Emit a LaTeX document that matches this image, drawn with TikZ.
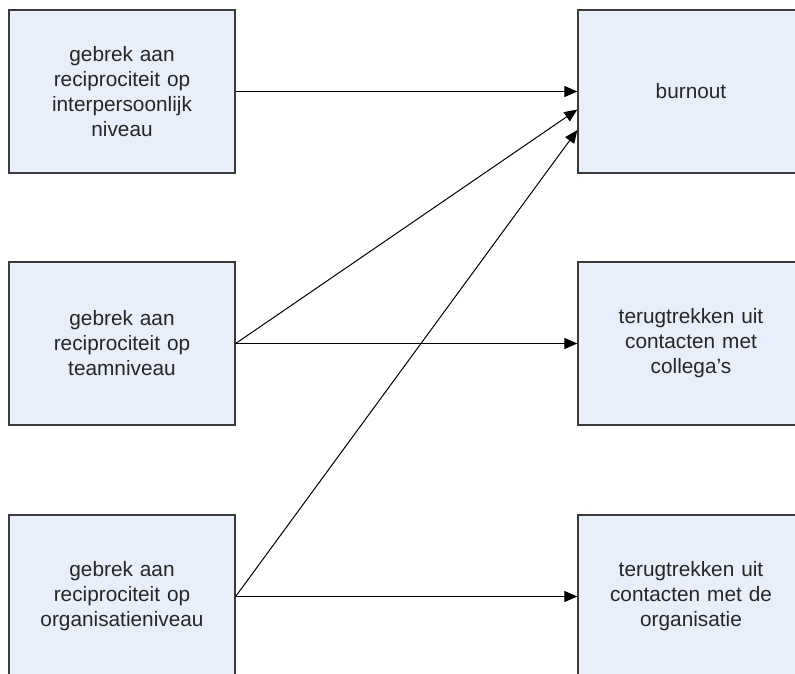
\documentclass[tikz,border=0pt]{standalone}
\usepackage{fontspec}
\setmainfont{Liberation Sans}
\usetikzlibrary{arrows.meta}
\definecolor{boxfill}{HTML}{E8EFFA}
\definecolor{boxline}{HTML}{3A3A3A}
\tikzset{
  box/.style={draw=boxline, line width=1.3pt, fill=boxfill, rectangle,
    minimum width=226pt, minimum height=163pt, inner sep=0pt,
    align=center, text width=210pt,
    font=\fontsize{20.8}{25}\selectfont, text=black!85},
  conn/.style={draw=black, line width=1pt, -{Triangle[length=13pt,width=11pt]}}
}
\begin{document}
\begin{tikzpicture}[x=1pt,y=-1pt]
\useasboundingbox (0,0) rectangle (795,673);
\clip (0,0) rectangle (795,673);
\node[box] (L1) at (122,91.5) {gebrek aan\\reciprociteit op\\interpersoonlijk\\niveau};
\node[box] (L2) at (122,343.5) {gebrek aan\\reciprociteit op\\teamniveau};
\node[box] (L3) at (122,596.5) {gebrek aan\\reciprociteit op\\organisatieniveau};
\node[box] (R1) at (691,91.5) {burnout};
\node[box] (R2) at (691,343.5) {terugtrekken uit\\contacten met\\collega’s};
\node[box] (R3) at (691,596.5) {terugtrekken uit\\contacten met de\\organisatie};
\coordinate (t2) at ([yshift=-18pt]R1.west);
\coordinate (t3) at ([yshift=-38.5pt]R1.west);
\draw[conn] (L1.east) -- (R1.west);
\draw[conn] (L2.east) -- (t2);
\draw[conn] (L3.east) -- (t3);
\draw[conn] (L2.east) -- (R2.west);
\draw[conn] (L3.east) -- (R3.west);
\end{tikzpicture}
\end{document}
